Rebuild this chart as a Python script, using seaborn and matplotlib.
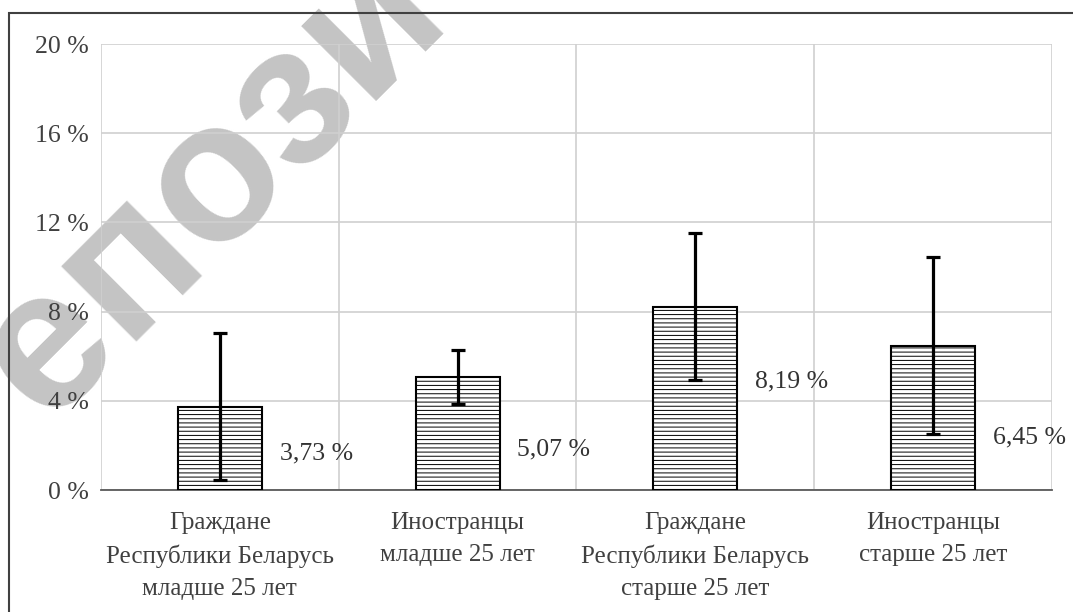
import numpy as np
import matplotlib
matplotlib.use("Agg")
import matplotlib.pyplot as plt
import matplotlib.patches as mpatches
from matplotlib.ticker import FixedLocator, FuncFormatter
import seaborn as sns

# данные
categories = ["Граждане\nРеспублики Беларусь\nмладше 25 лет",
              "Иностранцы\nмладше 25 лет",
              "Граждане\nРеспублики Беларусь\nстарше 25 лет",
              "Иностранцы\nстарше 25 лет"]
values = [3.73, 5.07, 8.19, 6.45]
err_low = [3.28, 1.21, 3.26, 3.94]
err_high = [3.31, 1.21, 3.33, 4.00]
value_labels = ["3,73 %", "5,07 %", "8,19 %", "6,45 %"]
label_y = [1.64, 1.82, 4.86, 2.35]
yticks = [0, 4, 8, 12, 16, 20]

sns.set_theme(style="white")
plt.rcParams["font.family"] = ["Liberation Serif", "DejaVu Serif"]
plt.rcParams["hatch.linewidth"] = 0.7
plt.rcParams["hatch.color"] = "black"

fig = plt.figure(figsize=(10.73, 6.12), dpi=100)
ax = fig.add_axes([0.0941, 0.1993, 0.8863, 0.7288])
ax.set_facecolor("none")

# водяной знак
fig.text(371 / 1073, 1 - 17 / 612, "Репозиторий", fontsize=144, color="#c4c4c4",
         family="Liberation Sans", weight="bold", rotation=45,
         rotation_mode="anchor", ha="center", va="center", zorder=-5)

# рамка
fig.patches.append(mpatches.Rectangle((9 / 1073, -0.1), 1.2, 1.1 - 13 / 612,
                                      transform=fig.transFigure, fill=False,
                                      edgecolor="#404040", linewidth=1.5, zorder=-4))

sns.barplot(x=list(range(len(values))), y=values, ax=ax, color="white",
            saturation=1, width=0.353, edgecolor="black", linewidth=1.5,
            hatch="----", zorder=3)

ax.errorbar(range(len(values)), values, yerr=[err_low, err_high], fmt="none",
            ecolor="black", elinewidth=2.3, capsize=4.7, capthick=2.3, zorder=4)

for i, (lab, yy) in enumerate(zip(value_labels, label_y)):
    ax.text(i + 0.353 / 2 + 0.075, yy, lab, fontsize=18.5, color="#333333",
            ha="left", va="center", zorder=5)

ax.set_xlim(-0.5, 3.5)
ax.set_ylim(0, 20)
ax.yaxis.set_major_locator(FixedLocator(yticks))
ax.yaxis.set_major_formatter(FuncFormatter(lambda v, p: f"{int(v)} %"))
ax.set_xticks(range(len(categories)))
ax.set_xticklabels(categories, multialignment="center", linespacing=1.57)
ax.xaxis.set_minor_locator(FixedLocator([-0.5, 0.5, 1.5, 2.5, 3.5]))
ax.grid(True, axis="y", color="#d0d0d0", linewidth=1.2, zorder=0)
ax.grid(True, axis="x", which="minor", color="#d0d0d0", linewidth=1.2, zorder=0)
ax.set_axisbelow(True)
ax.tick_params(axis="both", which="both", length=0, labelcolor="#404040")
ax.tick_params(axis="y", pad=9, labelsize=18.5)
ax.tick_params(axis="x", pad=16, labelsize=18)
for s in ["left", "right", "top"]:
    ax.spines[s].set_visible(False)
ax.spines["bottom"].set_color("#595959")
ax.spines["bottom"].set_linewidth(1.3)
ax.set_xlabel("")
ax.set_ylabel("")

fig.savefig("out.png", dpi=100)
